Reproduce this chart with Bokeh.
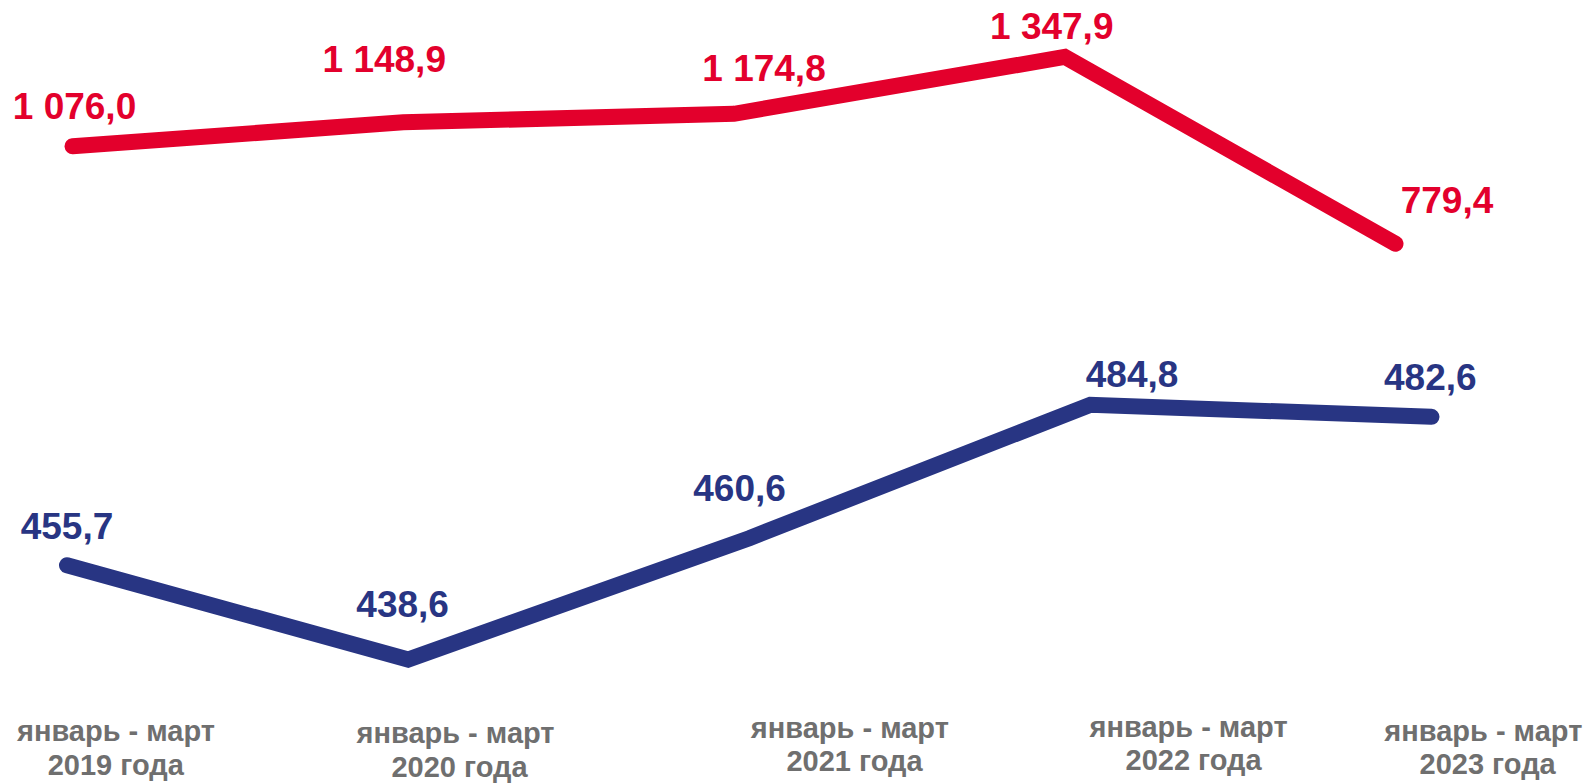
from bokeh.plotting import figure
from bokeh.models import Range1d
from bokeh.embed import file_html
from bokeh.resources import INLINE
from bokeh.core.properties import value

# ---------------- data ----------------
periods = ["январь - март", "январь - март", "январь - март", "январь - март", "январь - март"]
years = ["2019 года", "2020 года", "2021 года", "2022 года", "2023 года"]
red_values = [1076.0, 1148.9, 1174.8, 1347.9, 779.4]
blue_values = [455.7, 438.6, 460.6, 484.8, 482.6]

# ---------------- styling / layout ----------------
RED = "#E3002C"
BLUE = "#283583"
GRAY = "#6F6F6F"
FONT = value("Liberation Sans")

W, H = 1589, 783
M = 0  # offset of the canvas on the page


def fmt(v):
    return f"{v:,.1f}".replace(",", " ").replace(".", ",")


def lin_range(v0, p0, v1, p1, length, flip=False):
    if flip:
        p0, p1 = length - p0, length - p1
    scale = (p1 - p0) / (v1 - v0)
    start = v0 - p0 / scale
    return Range1d(start, start + length / scale)


n = len(years)
idx = list(range(n))

red_x = lin_range(0, 72 - M, n - 1, 1395 - M, W)
red_y = lin_range(min(red_values), 243.3 - M, max(red_values), 56.4 - M, H, flip=True)
blue_x = lin_range(0, 66.5 - M, n - 1, 1431 - M, W)
blue_y = lin_range(min(blue_values), 659 - M, max(blue_values), 404.2 - M, H, flip=True)

p = figure(width=W, height=H, x_range=red_x, y_range=red_y,
           x_axis_type=None, y_axis_type=None,
           output_backend="svg", toolbar_location=None, min_border=0)
p.extra_x_ranges = {"blue": blue_x}
p.extra_y_ranges = {"blue": blue_y}
p.outline_line_color = None
p.background_fill_color = "white"
p.border_fill_color = "white"

p.line(idx, red_values, line_color=RED, line_width=16, line_cap="round", line_join="miter")
p.line(idx, blue_values, line_color=BLUE, line_width=16, line_cap="round", line_join="miter",
       x_range_name="blue", y_range_name="blue")

# value labels (offsets in screen px from the point)
VAL_SHIFT = -13.5
red_dx = [2, -19, 30, -13, 51.5]
red_dy = [d + VAL_SHIFT for d in [-25.8, -49.4, -31.6, -17.1, -30.6]]
blue_dx = [0, -5.5, -9.7, 41.7, -1.2]
blue_dy = [d + VAL_SHIFT for d in [-25.8, -42.3, -36.5, -16.9, -26.3]]

p.text(x=idx, y=red_values, text=[fmt(v) for v in red_values],
       x_offset=red_dx, y_offset=red_dy,
       text_align="center", text_baseline="alphabetic",
       text_font=FONT, text_font_style="bold", text_font_size="37px", text_color=RED)
p.text(x=idx, y=blue_values, text=[fmt(v) for v in blue_values],
       x_offset=blue_dx, y_offset=blue_dy,
       text_align="center", text_baseline="alphabetic",
       text_font=FONT, text_font_style="bold", text_font_size="37px", text_color=BLUE,
       x_range_name="blue", y_range_name="blue")

# category labels, anchored at the bottom of the plot
CAT_SHIFT = -9.7
bottom = [blue_y.start] * n
l1_dx = [49, 47.4, 100.6, 98.2, 51.8]
l2_dx = [48.8, 51.4, 105.3, 103.2, 56.1]
l1_dy = [d + CAT_SHIFT for d in [-42.7, -41, -46, -46.7, -43.3]]
l2_dy = [d + CAT_SHIFT for d in [-8.7, -6.5, -13, -14, -9.7]]
p.text(x=idx, y=bottom, text=periods, x_offset=l1_dx, y_offset=l1_dy,
       text_align="center", text_baseline="alphabetic",
       text_font=FONT, text_font_style="bold", text_font_size="29px", text_color=GRAY,
       x_range_name="blue", y_range_name="blue")
p.text(x=idx, y=bottom, text=years, x_offset=l2_dx, y_offset=l2_dy,
       text_align="center", text_baseline="alphabetic",
       text_font=FONT, text_font_style="bold", text_font_size="29px", text_color=GRAY,
       x_range_name="blue", y_range_name="blue")

open("out.html", "w").write(file_html(p, INLINE))
